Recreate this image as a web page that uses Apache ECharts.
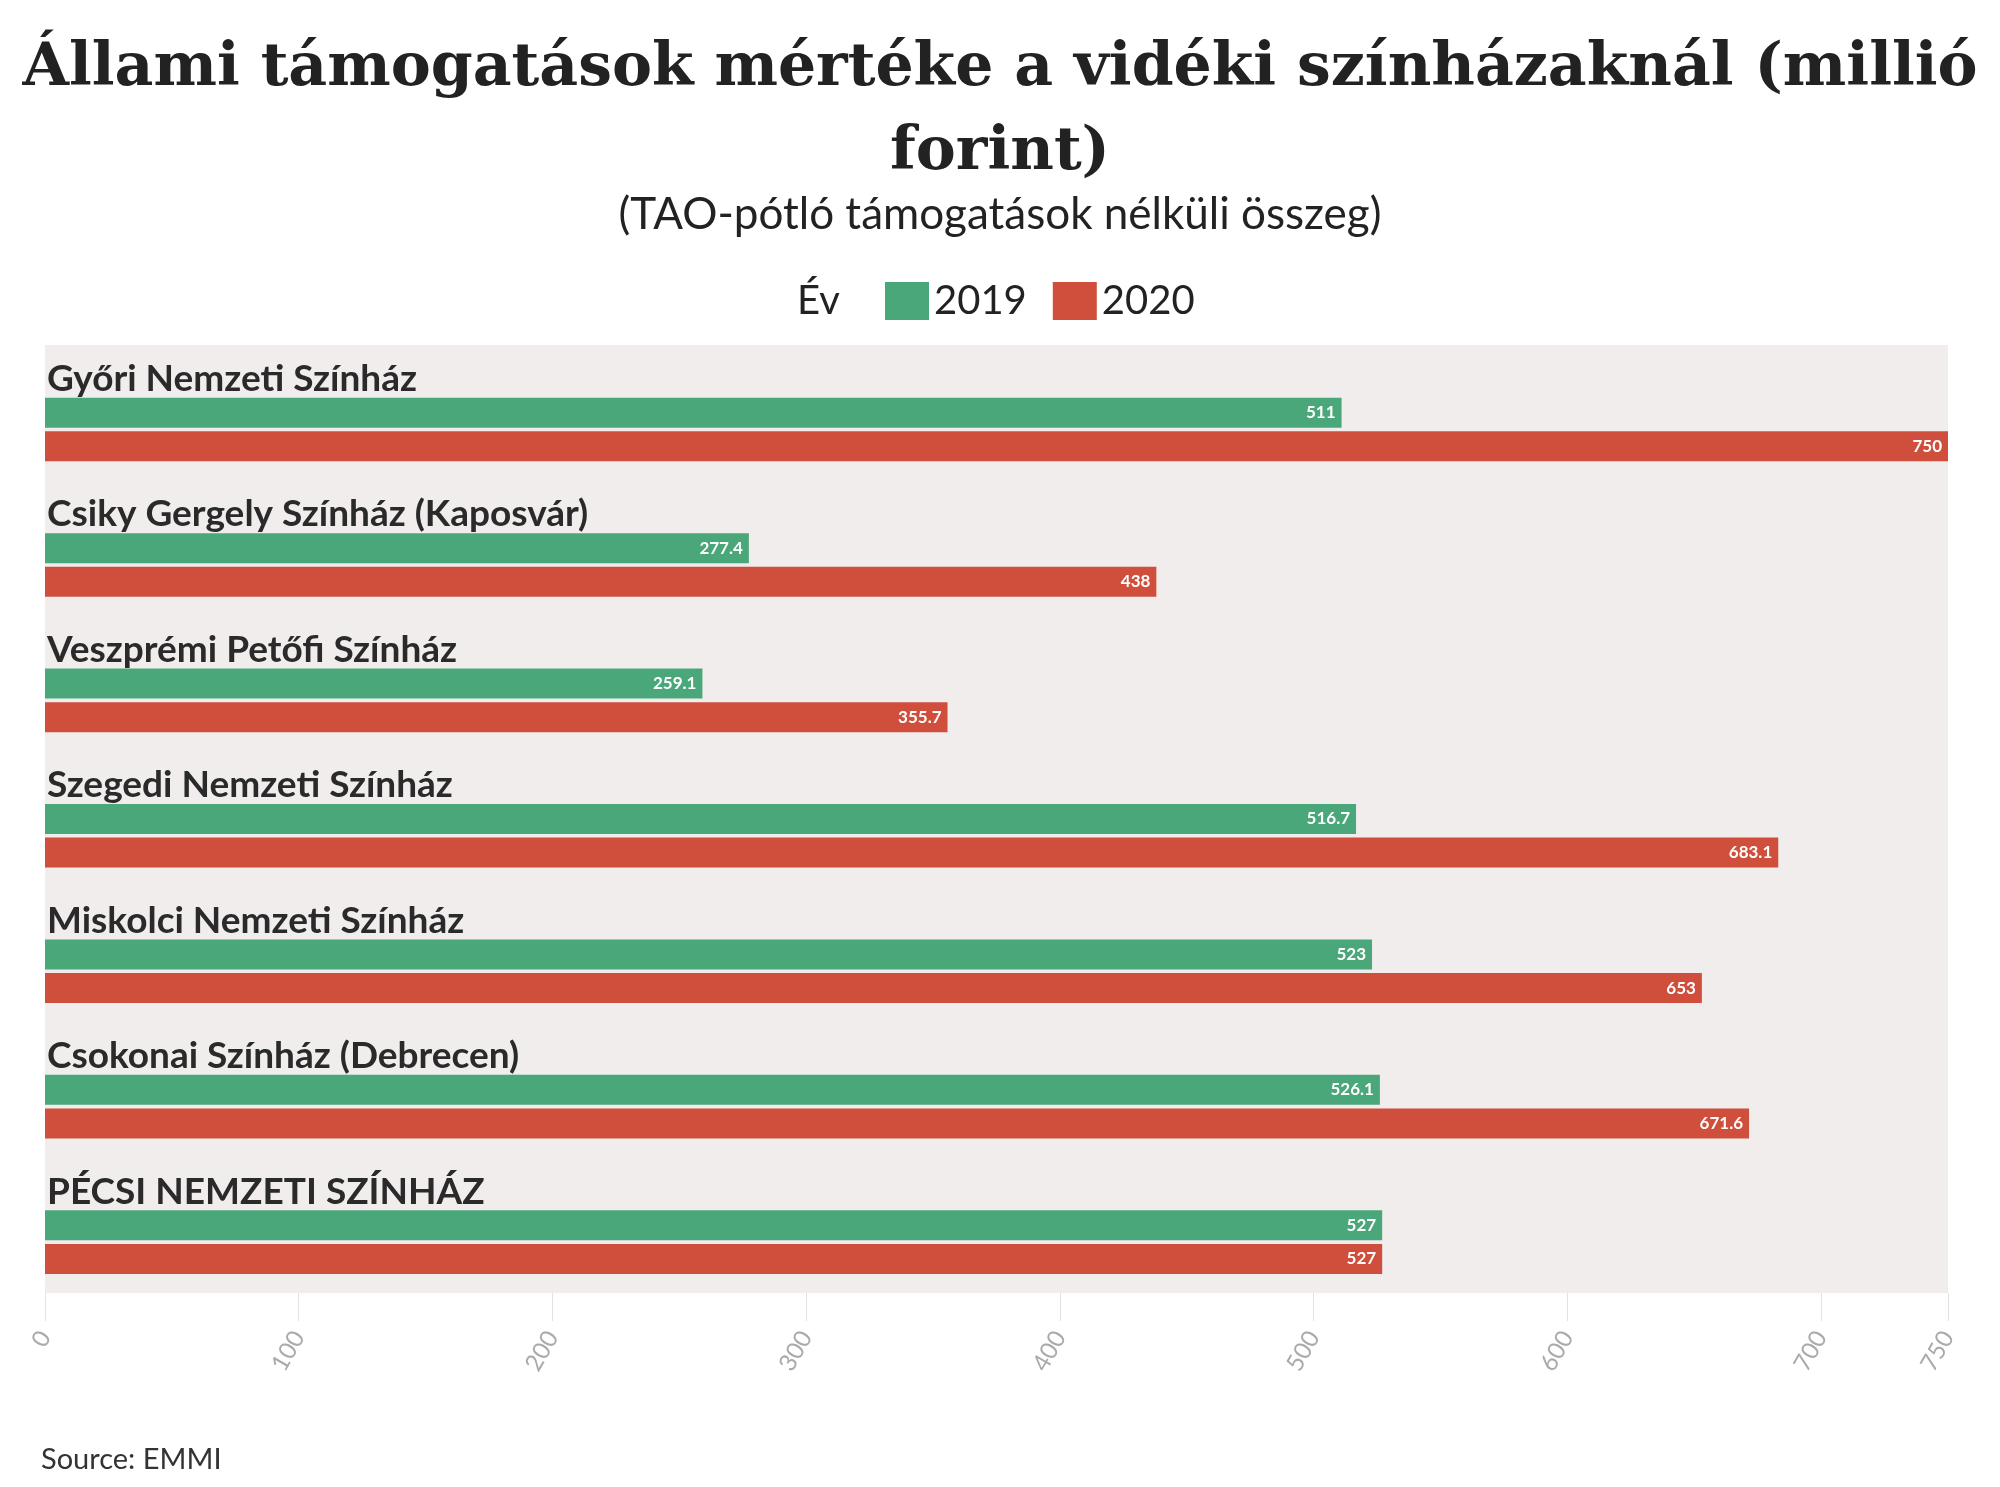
<!DOCTYPE html>
<html><head><meta charset="utf-8">
<script src="https://cdn.jsdelivr.net/npm/echarts@6/dist/echarts.min.js"></script>
<style>html,body{margin:0;background:#fff}#c{width:2000px;height:1487px}</style>
</head><body><div id="c"></div>
<script>
// adatok
const theatres = ["Győri Nemzeti Színház", "Csiky Gergely Színház (Kaposvár)", "Veszprémi Petőfi Színház",
  "Szegedi Nemzeti Színház", "Miskolci Nemzeti Színház", "Csokonai Színház (Debrecen)", "PÉCSI NEMZETI SZÍNHÁZ"];
const v2019 = [511, 277.4, 259.1, 516.7, 523, 526.1, 527];
const v2020 = [750, 438, 355.7, 683.1, 653, 671.6, 527];

const GREEN = "#4aa77a", RED = "#cf4f3c";
const FONT = "Lato, 'Noto Sans', sans-serif";
const barLabel = { show: true, position: "insideRight", color: "#fff", fontWeight: "bold", fontSize: 17, fontFamily: FONT, distance: 6 };

const c = echarts.init(document.getElementById("c"));
c.setOption({
  animation: false,
  title: [
    { text: "Állami támogatások mértéke a vidéki színházaknál (millió\nforint)", left: "center", top: 22,
      textStyle: { fontFamily: "'DejaVu Serif', serif", fontWeight: "bold", fontSize: 60, lineHeight: 84, color: "#222" } },
    { text: "(TAO-pótló támogatások nélküli összeg)", left: "center", top: 188,
      textStyle: { fontFamily: FONT, fontWeight: "normal", fontSize: 44, color: "#222" } },
    { text: "Év", left: 792, top: 276, textStyle: { fontFamily: FONT, fontWeight: "normal", fontSize: 40, color: "#222" } },
    { text: "Source: EMMI", left: 36, top: 1440, textStyle: { fontFamily: FONT, fontWeight: "normal", fontSize: 29, color: "#333" } }
  ],
  legend: { left: 880, top: 276, itemWidth: 44, itemHeight: 38, itemGap: 26, icon: "rect",
    textStyle: { fontFamily: FONT, fontSize: 40, color: "#222" }, data: ["2019", "2020"] },
  grid: { left: 45, right: 52, top: 345, bottom: 194, show: true, backgroundColor: "#f1eded", borderWidth: 0 },
  xAxis: { type: "value", min: 0, max: 750, interval: 100, position: "bottom",
    axisLine: { show: false }, splitLine: { show: false },
    axisTick: { show: true, length: 28, lineStyle: { color: "#e2e2e2" } },
    axisLabel: { rotate: 60, color: "#aaa", fontSize: 24, fontFamily: FONT, margin: 40 } },
  yAxis: { type: "category", data: theatres, inverse: true, show: false },
  series: [
    { type: "bar", name: "_label", data: theatres.map(() => 0), barWidth: 30, barGap: "12%", silent: true,
      label: { show: true, position: "right", distance: 2, formatter: (p) => p.name, color: "#2a2a2a",
        fontWeight: "bold", fontSize: 37, fontFamily: FONT } },
    { type: "bar", name: "2019", data: v2019, barWidth: 30, itemStyle: { color: GREEN }, label: barLabel },
    { type: "bar", name: "2020", data: v2020, barWidth: 30, itemStyle: { color: RED }, label: barLabel }
  ]
});
</script></body></html>
